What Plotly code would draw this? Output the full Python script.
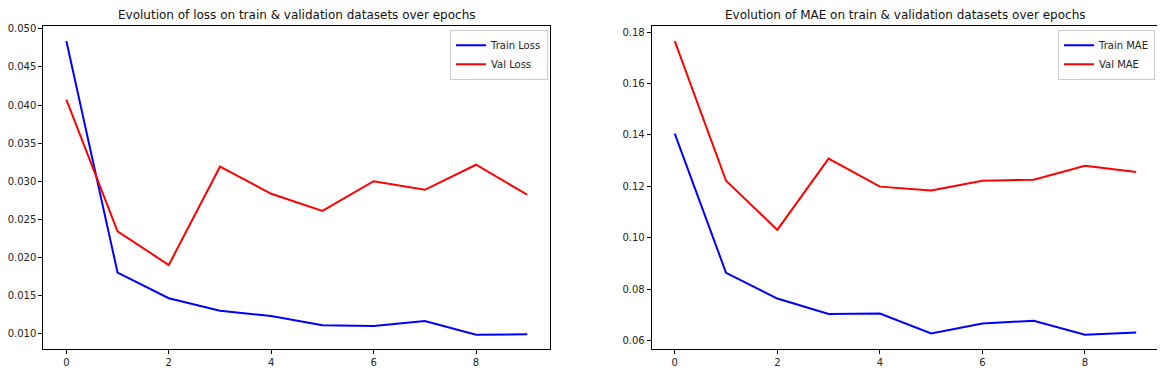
import plotly.graph_objects as go

epochs = list(range(10))
train_loss = [0.0484, 0.0180, 0.01463, 0.0130, 0.01229, 0.01108, 0.0110, 0.01164, 0.00983, 0.00991]
val_loss = [0.0407, 0.02342, 0.0190, 0.0319, 0.02835, 0.0261, 0.0300, 0.02887, 0.03216, 0.02822]
train_mae = [0.1405, 0.0864, 0.0764, 0.0704, 0.0706, 0.0628, 0.0667, 0.0678, 0.0623, 0.0632]
val_mae = [0.1765, 0.1222, 0.1031, 0.1308, 0.1199, 0.1184, 0.1222, 0.1226, 0.1280, 0.1256]

titles = ["Evolution of loss on train & validation datasets over epochs",
          "Evolution of MAE on train & validation datasets over epochs"]

# The page body has an 8px default margin, so the figure is drawn 8px smaller
# and all window-pixel positions are shifted by that offset.
OFF = 8
W, H = 1165 - OFF, 373 - OFF
FONT = "DejaVu Sans"


def px(x):
    return (x - OFF) / W


def py(y):
    return 1 - (y - OFF) / H


fig = go.Figure()
fig.add_trace(go.Scatter(x=epochs, y=train_loss, mode="lines", name="Train Loss",
                         line=dict(color="#0000ff", width=2), xaxis="x", yaxis="y", legend="legend"))
fig.add_trace(go.Scatter(x=epochs, y=val_loss, mode="lines", name="Val Loss",
                         line=dict(color="#ff0000", width=2), xaxis="x", yaxis="y", legend="legend"))
fig.add_trace(go.Scatter(x=epochs, y=train_mae, mode="lines", name="Train MAE",
                         line=dict(color="#0000ff", width=2), xaxis="x2", yaxis="y2", legend="legend2"))
fig.add_trace(go.Scatter(x=epochs, y=val_mae, mode="lines", name="Val MAE",
                         line=dict(color="#ff0000", width=2), xaxis="x2", yaxis="y2", legend="legend2"))


def pad(vals):
    lo, hi = min(vals), max(vals)
    m = (hi - lo) * 0.05
    return [lo - m, hi + m]


ydom = [py(349.3), py(23.5)]
axis_common = dict(showline=True, mirror=True, linecolor="black", linewidth=1,
                   ticks="outside", ticklen=4, tickwidth=1, tickcolor="black",
                   showgrid=False, zeroline=False,
                   tickfont=dict(family=FONT, size=10, color="#222"))

legend_common = dict(xanchor="right", yanchor="top",
                     bordercolor="#cccccc", borderwidth=1, bgcolor="rgba(255,255,255,0.8)",
                     font=dict(family=FONT, size=10, color="#222"),
                     tracegroupgap=0, itemwidth=30)

fig.update_layout(
    width=W, height=H,
    margin=dict(l=0, r=0, t=0, b=0),
    paper_bgcolor="white", plot_bgcolor="white",
    font=dict(family=FONT, size=10, color="#222"),
    xaxis=dict(domain=[px(43.3), px(550.3)], range=[-0.45, 9.45], tickvals=[0, 2, 4, 6, 8],
               anchor="y", **axis_common),
    yaxis=dict(domain=ydom, range=pad(train_loss + val_loss),
               tickvals=[0.010, 0.015, 0.020, 0.025, 0.030, 0.035, 0.040, 0.045, 0.050],
               tickformat=".3f", anchor="x", **axis_common),
    xaxis2=dict(domain=[px(651.7), px(1159.3)], range=[-0.45, 9.45], tickvals=[0, 2, 4, 6, 8],
                anchor="y2", **axis_common),
    yaxis2=dict(domain=ydom, range=pad(train_mae + val_mae),
                tickvals=[0.06, 0.08, 0.10, 0.12, 0.14, 0.16, 0.18],
                tickformat=".2f", anchor="x2", **axis_common),
    legend=dict(x=px(548), y=py(27), **legend_common),
    legend2=dict(x=px(1155), y=py(27), **legend_common),
    annotations=[
        dict(text=titles[0], x=(px(43.3) + px(550.3)) / 2, y=ydom[1], xref="paper", yref="paper",
             xanchor="center", yanchor="bottom", yshift=2, showarrow=False,
             font=dict(family=FONT, size=12, color="#111")),
        dict(text=titles[1], x=(px(651.7) + px(1159.3)) / 2, y=ydom[1], xref="paper", yref="paper",
             xanchor="center", yanchor="bottom", yshift=2, showarrow=False,
             font=dict(family=FONT, size=12, color="#111")),
    ],
)

fig.write_html("out.html")
